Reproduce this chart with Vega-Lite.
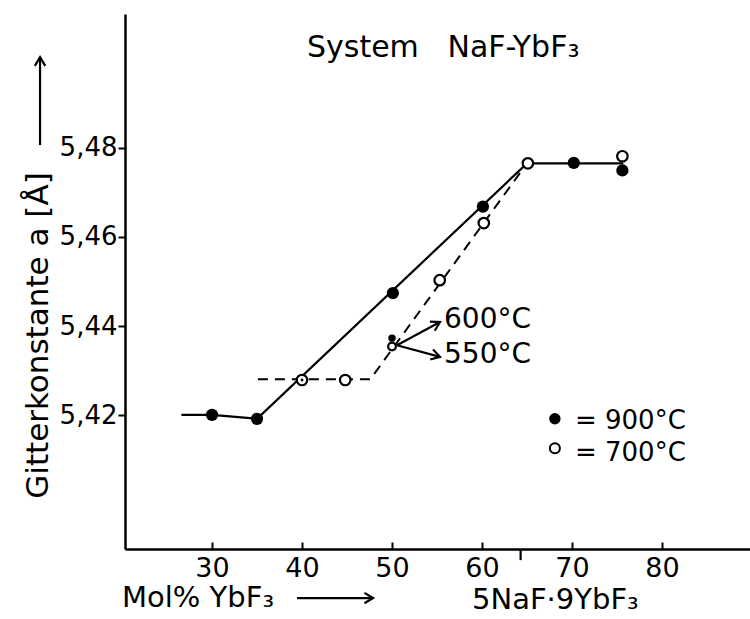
{
  "$schema": "https://vega.github.io/schema/vega-lite/v6.json",
  "width": 625,
  "height": 535,
  "autosize": {"type": "none"},
  "padding": {"left": 125, "top": 14, "right": 0, "bottom": 70},
  "background": "white",
  "config": {
    "view": {"stroke": null},
    "font": "DejaVu Sans",
    "axis": {"grid": false, "domainColor": "black", "domainWidth": 2.5, "tickColor": "black", "tickWidth": 2, "labelColor": "black", "labelFont": "DejaVu Sans", "titleFont": "DejaVu Sans", "titleColor": "black", "titleFontWeight": "normal"}
  },
  "datasets": {
    "pts": [
      {"x": 30, "y": 5.4201, "t": "900"},
      {"x": 35, "y": 5.4192, "t": "900"},
      {"x": 50.1, "y": 5.4474, "t": "900"},
      {"x": 60.1, "y": 5.4668, "t": "900"},
      {"x": 70.2, "y": 5.4766, "t": "900"},
      {"x": 75.6, "y": 5.4749, "t": "900"},
      {"x": 40, "y": 5.4279, "t": "700"},
      {"x": 44.8, "y": 5.4279, "t": "700"},
      {"x": 55.3, "y": 5.4503, "t": "700"},
      {"x": 60.2, "y": 5.4631, "t": "700"},
      {"x": 65.1, "y": 5.4765, "t": "700"},
      {"x": 75.6, "y": 5.4781, "t": "700"},
      {"x": 50, "y": 5.4373, "t": "600"},
      {"x": 50, "y": 5.4354, "t": "550"},
      {"x": 40, "y": 5.4279, "t": "dot"}
    ],
    "lines": [
      {"x": 26.6, "y": 5.4201, "s": "solid"},
      {"x": 30, "y": 5.4201, "s": "solid"},
      {"x": 35, "y": 5.4192, "s": "solid"},
      {"x": 65, "y": 5.4765, "s": "solid"},
      {"x": 75.7, "y": 5.4765, "s": "solid"},
      {"x": 35.1, "y": 5.4281, "s": "dash"},
      {"x": 47.6, "y": 5.4281, "s": "dash"},
      {"x": 65, "y": 5.4765, "s": "dash"}
    ],
    "legend": [
      {"x": 68.1, "y": 5.4192, "t": "900"},
      {"x": 68.1, "y": 5.4126, "t": "700"}
    ],
    "texts": [
      {"x": 40.55, "y": 5.5004, "text": "System\u00a0\u00a0\u00a0NaF-YbF\u2083", "b": "title"},
      {"x": 55.78, "y": 5.4414, "text": "600°C", "b": "middle"},
      {"x": 55.78, "y": 5.4335, "text": "550°C", "b": "middle"},
      {"x": 70.33, "y": 5.4186, "text": "= 900°C", "b": "legend"},
      {"x": 70.33, "y": 5.4115, "text": "= 700°C", "b": "legend"},
      {"x": 20.0, "y": 5.377, "text": "Mol% YbF\u2083", "b": "alphabetic"},
      {"x": 58.89, "y": 5.3765, "text": "5NaF·9YbF\u2083", "b": "alphabetic"}
    ],
    "arrows": [
      {"x": 50.55, "y": 5.4357, "x2": 55.33, "y2": 5.4409},
      {"x": 50.55, "y": 5.4357, "x2": 55.33, "y2": 5.4331},
      {"x": 10.89, "y": 5.4806, "x2": 10.89, "y2": 5.5003},
      {"x": 39.44, "y": 5.379, "x2": 47.9, "y2": 5.379},
      {"x": 64.29, "y": 5.39, "x2": 64.29, "y2": 5.3875}
    ],
    "heads": [
      {"x": 55.33, "y": 5.4409, "angle": -28},
      {"x": 55.33, "y": 5.4331, "angle": 16},
      {"x": 10.89, "y": 5.5003, "angle": -90},
      {"x": 47.9, "y": 5.379, "angle": 0}
    ]
  },
  "encoding": {
    "x": {"field": "x", "type": "quantitative", "scale": {"domain": [20.33, 89.78], "nice": false, "zero": false},
      "axis": {"values": [30, 40, 50, 60, 70, 80], "title": null, "tickSize": -7, "labelPadding": 13, "labelFontSize": 27, "domainWidth": 2.5}},
    "y": {"field": "y", "type": "quantitative", "scale": {"domain": [5.39, 5.51], "nice": false, "zero": false},
      "axis": {"values": [5.42, 5.44, 5.46, 5.48], "tickSize": 7, "labelPadding": 1, "labelFontSize": 26,
        "labelExpr": "replace(format(datum.value, '.2f'), '.', ',')",
        "title": "Gitterkonstante a [Å]", "titleFontSize": 31, "titleAngle": 270, "titleX": -78, "titleY": 321, "titleAlign": "center", "titleBaseline": "alphabetic"}}
  },
  "layer": [
    {
      "data": {"values": [{}]},
      "mark": {"type": "rule", "color": "black", "strokeWidth": 2.5},
      "encoding": {"x": {"datum": 20.33}, "x2": {"datum": 89.78}, "y": {"datum": 5.51}}
    },
    {
      "data": {"name": "lines"},
      "transform": [{"filter": "datum.s === 'solid'"}],
      "mark": {"type": "line", "color": "black", "strokeWidth": 2.2},
      "encoding": {"order": {"field": "x", "type": "quantitative"}}
    },
    {
      "data": {"name": "lines"},
      "transform": [{"filter": "datum.s === 'dash'"}],
      "mark": {"type": "line", "color": "black", "strokeWidth": 2, "strokeDash": [10, 7]},
      "encoding": {"order": {"field": "x", "type": "quantitative"}}
    },
    {
      "data": {"name": "arrows"},
      "mark": {"type": "rule", "color": "black", "strokeWidth": 2.2, "clip": false},
      "encoding": {"x2": {"field": "x2"}, "y2": {"field": "y2"}}
    },
    {
      "data": {"name": "heads"},
      "mark": {"type": "point", "shape": "M-1,-0.6L0,0L-1,0.6", "filled": false, "stroke": "black", "strokeWidth": 2.2, "size": 300, "opacity": 1, "clip": false},
      "encoding": {"angle": {"field": "angle", "type": "quantitative", "scale": null}}
    },
    {
      "data": {"name": "pts"},
      "transform": [{"filter": "datum.t === '900'"}],
      "mark": {"type": "point", "shape": "circle", "filled": true, "color": "black", "opacity": 1, "size": 150}
    },
    {
      "data": {"name": "pts"},
      "transform": [{"filter": "datum.t === '700'"}],
      "mark": {"type": "point", "shape": "circle", "fill": "white", "stroke": "black", "strokeWidth": 2.2, "fillOpacity": 1, "opacity": 1, "size": 110}
    },
    {
      "data": {"name": "pts"},
      "transform": [{"filter": "datum.t === '600'"}],
      "mark": {"type": "point", "shape": "circle", "filled": true, "color": "black", "opacity": 1, "size": 55}
    },
    {
      "data": {"name": "pts"},
      "transform": [{"filter": "datum.t === '550'"}],
      "mark": {"type": "point", "shape": "circle", "fill": "white", "stroke": "black", "strokeWidth": 2.2, "fillOpacity": 1, "opacity": 1, "size": 60}
    },
    {
      "data": {"name": "pts"},
      "transform": [{"filter": "datum.t === 'dot'"}],
      "mark": {"type": "point", "shape": "circle", "filled": true, "color": "black", "opacity": 1, "size": 8}
    },
    {
      "data": {"name": "legend"},
      "transform": [{"filter": "datum.t === '900'"}],
      "mark": {"type": "point", "shape": "circle", "filled": true, "color": "black", "opacity": 1, "size": 130}
    },
    {
      "data": {"name": "legend"},
      "transform": [{"filter": "datum.t === '700'"}],
      "mark": {"type": "point", "shape": "circle", "fill": "white", "stroke": "black", "strokeWidth": 2, "fillOpacity": 1, "opacity": 1, "size": 100}
    },
    {
      "data": {"name": "texts"},
      "transform": [{"filter": "datum.b === 'middle'"}],
      "mark": {"type": "text", "align": "left", "baseline": "middle", "font": "DejaVu Sans", "fontSize": 28, "color": "black", "clip": false},
      "encoding": {"text": {"field": "text"}}
    },
    {
      "data": {"name": "texts"},
      "transform": [{"filter": "datum.b === 'legend'"}],
      "mark": {"type": "text", "align": "left", "baseline": "middle", "font": "DejaVu Sans", "fontSize": 26, "color": "black", "clip": false},
      "encoding": {"text": {"field": "text"}}
    },
    {
      "data": {"name": "texts"},
      "transform": [{"filter": "datum.b === 'title'"}],
      "mark": {"type": "text", "align": "left", "baseline": "alphabetic", "font": "DejaVu Sans", "fontSize": 30, "color": "black", "clip": false},
      "encoding": {"text": {"field": "text"}}
    },
    {
      "data": {"name": "texts"},
      "transform": [{"filter": "datum.b === 'alphabetic'"}],
      "mark": {"type": "text", "align": "left", "baseline": "alphabetic", "font": "DejaVu Sans", "fontSize": 29, "color": "black", "clip": false},
      "encoding": {"text": {"field": "text"}}
    }
  ]
}
